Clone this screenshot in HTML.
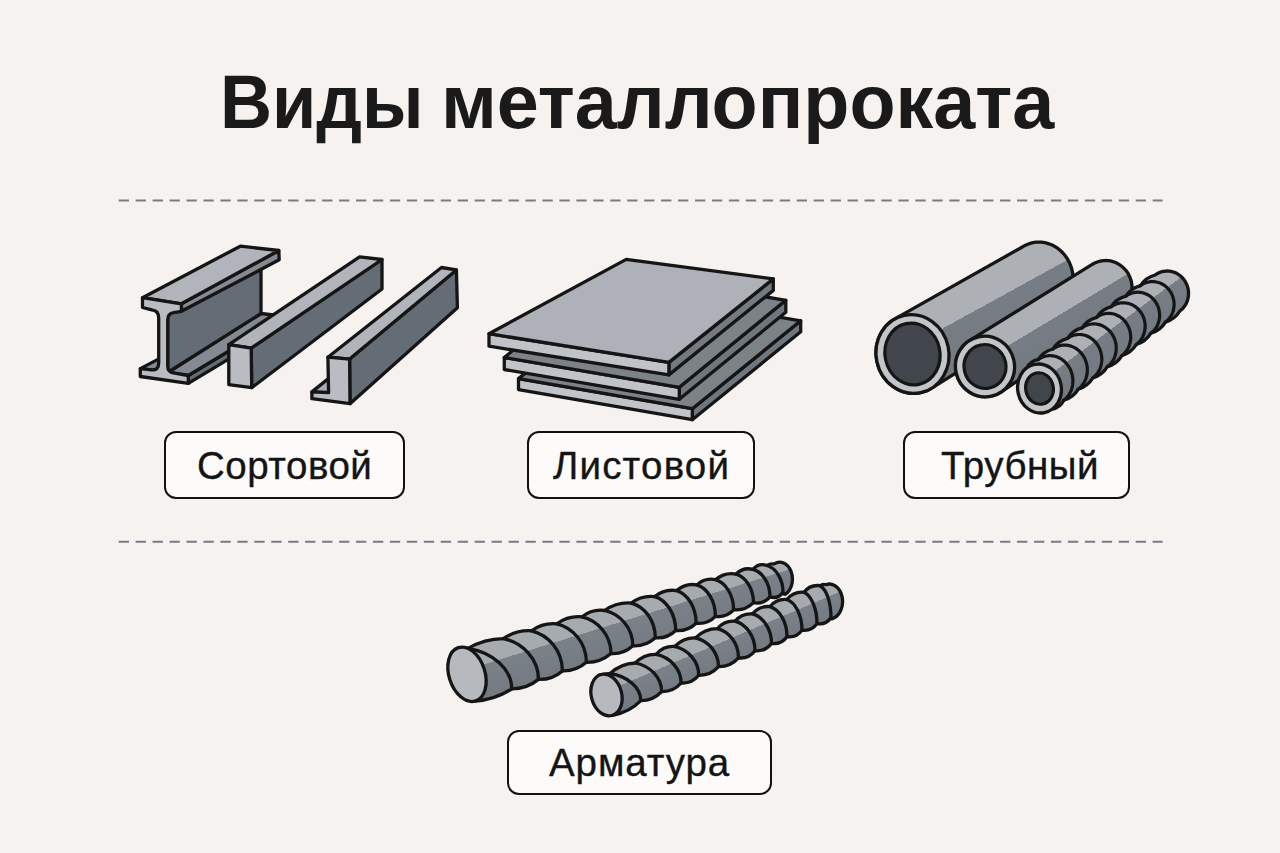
<!DOCTYPE html>
<html><head><meta charset="utf-8"><style>
html,body{margin:0;padding:0;}
body{width:1280px;height:853px;background:#f6f2ef;position:relative;overflow:hidden;font-family:"Liberation Sans",sans-serif;}
.title{position:absolute;left:0;top:0;white-space:nowrap;font-weight:bold;font-size:76px;letter-spacing:0px;color:#1a1a1a;line-height:1;transform:scaleX(0.977);transform-origin:0 0;}
.lbl{position:absolute;box-sizing:border-box;border:2.8px solid #111;border-radius:12px;background:#fcfbf9;}
.lt{position:absolute;white-space:nowrap;font-size:38.5px;color:#141414;line-height:1;-webkit-text-stroke:0.35px #141414;}
svg{position:absolute;left:0;top:0;}
</style></head><body>
<svg width="1280" height="853" viewBox="0 0 1280 853">
<polygon points="188.3,375.5 188.3,383.4 286.0,324.5 286.0,316.5" fill="#646d75" stroke="#151515" stroke-width="3.3" stroke-linejoin="round" />
<polygon points="167.7,372.5 188.3,375.5 286.0,316.5 261.0,313.5" fill="#848a91" stroke="#151515" stroke-width="3.3" stroke-linejoin="round" />
<polygon points="140.3,368.6 158.7,371.2 198.7,350.2 180.3,347.6" fill="#848a91" stroke="#151515" stroke-width="3.3" stroke-linejoin="round" />
<polygon points="167.7,313.5 167.7,372.5 261.0,313.5 261.0,269.5" fill="#646d75" stroke="#151515" stroke-width="3.3" stroke-linejoin="round" />
<polygon points="181.4,303.8 181.4,311.3 279.2,259.8 278.8,250.5" fill="#848a91" stroke="#151515" stroke-width="3.3" stroke-linejoin="round" />
<polygon points="142.5,297.7 181.4,303.8 278.8,250.5 240.3,246.2" fill="#b1b5bb" stroke="#151515" stroke-width="3.3" stroke-linejoin="round" />
<path d="M142.5,297.7 L181.4,303.8 L181.4,311.3 L173.7,312.6 Q167.7,313.4 167.7,320 L167.7,366 Q167.7,372.5 174.7,373.2 L188.3,375.5 L188.3,383.4 L140.3,376.5 L140.3,368.6 L151.7,369.8 Q158.7,370.5 158.7,363 L158.7,318 Q158.7,310.4 151.7,309.8 L142.5,307.5 Z" fill="#b9bdc3" stroke="#151515" stroke-width="3.3" stroke-linejoin="round"/>
<polygon points="251.2,348.1 251.7,387.7 382.0,289.0 382.0,259.5" fill="#646d75" stroke="#151515" stroke-width="3.3" stroke-linejoin="round" />
<polygon points="228.8,344.6 251.2,348.1 382.0,259.5 359.6,256.9" fill="#b1b5bb" stroke="#151515" stroke-width="3.3" stroke-linejoin="round" />
<polygon points="228.8,344.6 251.2,348.1 251.7,387.7 228.8,384.6" fill="#b9bdc3" stroke="#151515" stroke-width="3.3" stroke-linejoin="round" />
<polygon points="311.9,391.9 328.6,392.6 360.0,367.0 344.0,366.0" fill="#a9adb3" stroke="#151515" stroke-width="3.3" stroke-linejoin="round" />
<polygon points="349.6,359.1 350.0,403.7 457.4,307.8 456.4,269.9" fill="#646d75" stroke="#151515" stroke-width="3.3" stroke-linejoin="round" />
<polygon points="327.9,357.2 349.6,359.1 456.4,269.9 441.5,267.5" fill="#b1b5bb" stroke="#151515" stroke-width="3.3" stroke-linejoin="round" />
<polygon points="327.9,357.2 349.6,359.1 350.0,403.7 311.9,398.7 311.9,391.9 328.6,392.6" fill="#b9bdc3" stroke="#151515" stroke-width="3.3" stroke-linejoin="round" />
<polygon points="692.3,408.7 800.7,320.8 800.7,331.8 692.3,419.7" fill="#6f767d" stroke="#151515" stroke-width="3.3" stroke-linejoin="round" />
<polygon points="518.5,378.6 692.3,408.7 692.3,419.7 518.5,389.6" fill="#c0c3c7" stroke="#151515" stroke-width="3.3" stroke-linejoin="round" />
<polygon points="518.5,378.6 626.9,290.7 800.7,320.8 692.3,408.7" fill="#7b8288" stroke="#151515" stroke-width="3.3" stroke-linejoin="round" />
<polygon points="679.3,387.3 785.8,300.3 785.8,312.3 679.3,399.3" fill="#6f767d" stroke="#151515" stroke-width="3.3" stroke-linejoin="round" />
<polygon points="504.3,357.5 679.3,387.3 679.3,399.3 504.3,369.5" fill="#c0c3c7" stroke="#151515" stroke-width="3.3" stroke-linejoin="round" />
<polygon points="504.3,357.5 610.8,270.5 785.8,300.3 679.3,387.3" fill="#7b8288" stroke="#151515" stroke-width="3.3" stroke-linejoin="round" />
<polygon points="668.9,362.4 773.3,278.9 773.3,290.4 668.9,374.9" fill="#737a81" stroke="#151515" stroke-width="3.3" stroke-linejoin="round" />
<polygon points="489.0,333.7 668.9,362.4 668.9,374.9 489.0,346.2" fill="#c0c3c7" stroke="#151515" stroke-width="3.3" stroke-linejoin="round" />
<polygon points="489.0,333.7 626.2,259.4 773.3,278.9 668.9,362.4" fill="#aeb1b7" stroke="#151515" stroke-width="3.3" stroke-linejoin="round" />
<defs><linearGradient id="g1" gradientUnits="userSpaceOnUse" x1="894.0" y1="319.4" x2="931.8" y2="388.2"><stop offset="0" stop-color="#adb1b5"/><stop offset="0.4" stop-color="#adb1b5"/><stop offset="0.4" stop-color="#767d84"/><stop offset="1" stop-color="#737a81"/></linearGradient></defs>
<path d="M931.0,388.6 L929.4,389.5 L927.6,390.4 L925.9,391.1 L924.1,391.7 L922.3,392.3 L920.4,392.7 L918.5,393.0 L916.6,393.2 L914.7,393.4 L912.8,393.4 L910.9,393.3 L909.0,393.0 L907.1,392.7 L905.2,392.3 L903.3,391.8 L901.5,391.1 L899.7,390.4 L897.9,389.6 L896.2,388.6 L894.5,387.6 L892.9,386.5 L891.3,385.3 L889.7,384.0 L888.3,382.6 L886.9,381.1 L885.6,379.6 L884.3,378.0 L883.1,376.3 L882.0,374.6 L881.0,372.8 L880.1,371.0 L879.2,369.1 L878.5,367.2 L877.8,365.2 L877.3,363.2 L876.8,361.2 L876.5,359.2 L876.2,357.1 L876.0,355.1 L876.0,353.0 L876.0,351.0 L876.1,348.9 L876.4,346.9 L876.7,344.9 L877.1,342.9 L877.7,340.9 L878.3,339.0 L879.0,337.1 L879.8,335.3 L880.7,333.5 L881.7,331.7 L882.8,330.1 L883.9,328.5 L885.1,326.9 L886.4,325.5 L887.8,324.1 L889.3,322.8 L890.8,321.6 L892.3,320.5 L894.0,319.4 L1023.2,246.5 L1024.7,245.6 L1026.2,244.9 L1027.8,244.2 L1029.5,243.6 L1031.1,243.1 L1032.8,242.7 L1034.5,242.4 L1036.2,242.2 L1037.9,242.1 L1039.7,242.1 L1041.4,242.2 L1043.1,242.4 L1044.9,242.7 L1046.6,243.1 L1048.3,243.6 L1049.9,244.2 L1051.6,244.8 L1053.2,245.6 L1054.8,246.5 L1056.3,247.4 L1057.8,248.4 L1059.2,249.5 L1060.6,250.7 L1061.9,252.0 L1063.2,253.3 L1064.4,254.7 L1065.5,256.1 L1066.6,257.7 L1067.6,259.2 L1068.5,260.9 L1069.4,262.5 L1070.1,264.3 L1070.8,266.0 L1071.4,267.8 L1071.9,269.6 L1072.3,271.4 L1072.7,273.3 L1072.9,275.2 L1073.1,277.0 L1073.1,278.9 L1073.1,280.8 L1073.0,282.7 L1072.8,284.5 L1072.5,286.4 L1072.1,288.2 L1071.6,290.0 L1071.0,291.7 L1070.4,293.4 L1069.7,295.1 L1068.9,296.7 L1068.0,298.3 L1067.0,299.8 L1066.0,301.3 L1064.8,302.7 L1063.7,304.0 L1062.4,305.3 L1061.1,306.5 L1059.7,307.6 L1058.3,308.6 L1056.8,309.5 Z" fill="url(#g1)" stroke="#151515" stroke-width="3.3" stroke-linejoin="round"/>
<ellipse cx="912.5" cy="354.0" rx="36.4" ry="39.5" transform="rotate(-12 912.5 354.0)" fill="#c3c6c9" stroke="#151515" stroke-width="3.3"/>
<ellipse cx="912.5" cy="354.0" rx="27.5" ry="31.0" transform="rotate(-12 912.5 354.0)" fill="#40464c" stroke="#151515" stroke-width="3.2"/>
<defs><linearGradient id="g2" gradientUnits="userSpaceOnUse" x1="969.0" y1="340.9" x2="1000.1" y2="392.7"><stop offset="0" stop-color="#adb1b5"/><stop offset="0.4" stop-color="#adb1b5"/><stop offset="0.4" stop-color="#767d84"/><stop offset="1" stop-color="#737a81"/></linearGradient></defs>
<path d="M1001.0,392.1 L999.7,392.9 L998.3,393.7 L996.9,394.3 L995.5,394.9 L994.0,395.4 L992.6,395.8 L991.0,396.2 L989.5,396.5 L988.0,396.6 L986.5,396.7 L984.9,396.8 L983.4,396.7 L981.8,396.6 L980.3,396.3 L978.8,396.0 L977.3,395.6 L975.8,395.1 L974.3,394.6 L972.9,394.0 L971.5,393.3 L970.2,392.5 L968.8,391.6 L967.6,390.7 L966.3,389.8 L965.2,388.7 L964.0,387.6 L963.0,386.4 L962.0,385.2 L961.0,383.9 L960.2,382.6 L959.4,381.3 L958.6,379.9 L958.0,378.4 L957.4,376.9 L956.9,375.4 L956.4,373.9 L956.1,372.4 L955.8,370.8 L955.6,369.2 L955.5,367.7 L955.5,366.1 L955.5,364.5 L955.6,362.9 L955.8,361.3 L956.1,359.8 L956.5,358.3 L956.9,356.7 L957.5,355.3 L958.1,353.8 L958.7,352.4 L959.5,351.0 L960.3,349.7 L961.2,348.4 L962.1,347.1 L963.1,345.9 L964.2,344.8 L965.3,343.7 L966.5,342.7 L967.7,341.8 L969.0,340.9 L1091.8,264.7 L1093.0,263.9 L1094.2,263.3 L1095.4,262.7 L1096.7,262.2 L1098.0,261.7 L1099.3,261.4 L1100.6,261.0 L1101.9,260.8 L1103.3,260.6 L1104.7,260.6 L1106.0,260.5 L1107.4,260.6 L1108.7,260.7 L1110.1,260.9 L1111.4,261.2 L1112.8,261.6 L1114.1,262.0 L1115.4,262.5 L1116.6,263.1 L1117.8,263.7 L1119.0,264.4 L1120.2,265.1 L1121.3,266.0 L1122.4,266.8 L1123.4,267.8 L1124.4,268.8 L1125.4,269.8 L1126.3,270.9 L1127.1,272.0 L1127.9,273.2 L1128.6,274.4 L1129.2,275.7 L1129.8,276.9 L1130.3,278.3 L1130.8,279.6 L1131.2,280.9 L1131.5,282.3 L1131.7,283.7 L1131.9,285.1 L1132.0,286.5 L1132.0,287.9 L1132.0,289.3 L1131.9,290.8 L1131.7,292.1 L1131.5,293.5 L1131.2,294.9 L1130.8,296.2 L1130.3,297.6 L1129.8,298.9 L1129.2,300.1 L1128.5,301.4 L1127.8,302.5 L1127.1,303.7 L1126.2,304.8 L1125.3,305.9 L1124.4,306.9 L1123.4,307.8 L1122.4,308.7 L1121.3,309.6 L1120.2,310.3 Z" fill="url(#g2)" stroke="#151515" stroke-width="3.3" stroke-linejoin="round"/>
<ellipse cx="985.0" cy="366.5" rx="29.5" ry="30.3" transform="rotate(-12 985.0 366.5)" fill="#c3c6c9" stroke="#151515" stroke-width="3.3"/>
<ellipse cx="985.0" cy="366.5" rx="21.0" ry="22.0" transform="rotate(-12 985.0 366.5)" fill="#40464c" stroke="#151515" stroke-width="3.2"/>
<defs><linearGradient id="g3" gradientUnits="userSpaceOnUse" x1="1026.8" y1="367.9" x2="1055.6" y2="406.6"><stop offset="0" stop-color="#adb1b5"/><stop offset="0.4" stop-color="#adb1b5"/><stop offset="0.4" stop-color="#767d84"/><stop offset="1" stop-color="#737a81"/></linearGradient></defs>
<path d="M1039.5,388.5 L1026.8,367.9 Q1030.4,360.8 1038.2,359.6 Q1043.4,351.4 1052.9,349.0 Q1058.1,340.8 1067.5,338.4 Q1072.6,330.2 1082.0,327.9 Q1087.2,319.7 1096.7,317.3 Q1101.9,309.1 1111.3,306.7 Q1116.4,298.5 1125.8,296.2 Q1131.0,288.0 1140.5,285.6 Q1145.7,277.4 1155.1,275.0 L1156.0,274.4 L1157.0,273.8 L1157.9,273.3 L1158.9,272.8 L1159.9,272.4 L1161.0,272.0 L1162.0,271.7 L1163.1,271.4 L1164.2,271.3 L1165.3,271.1 L1166.4,271.1 L1167.5,271.0 L1168.6,271.1 L1169.7,271.2 L1170.8,271.4 L1171.9,271.6 L1172.9,271.9 L1174.0,272.2 L1175.0,272.6 L1176.0,273.1 L1177.0,273.6 L1178.0,274.2 L1178.9,274.8 L1179.9,275.5 L1180.7,276.2 L1181.6,276.9 L1182.4,277.8 L1183.1,278.6 L1183.8,279.5 L1184.5,280.4 L1185.1,281.4 L1185.7,282.4 L1186.2,283.4 L1186.7,284.4 L1187.1,285.5 L1187.5,286.6 L1187.8,287.7 L1188.1,288.8 L1188.3,290.0 L1188.4,291.1 L1188.5,292.2 L1188.5,293.4 L1188.5,294.5 L1188.4,295.7 L1188.3,296.8 L1188.1,298.0 L1187.8,299.1 L1187.5,300.2 L1187.2,301.2 L1186.7,302.3 L1186.3,303.3 L1185.7,304.3 L1185.2,305.3 L1184.5,306.2 L1183.9,307.1 L1183.2,308.0 L1182.4,308.8 L1181.6,309.6 L1180.8,310.3 L1179.9,311.0 Q1174.8,319.4 1165.4,322.1 Q1160.4,330.5 1150.9,333.2 Q1145.8,341.7 1136.3,344.5 Q1131.3,352.9 1121.9,355.6 Q1116.8,364.0 1107.4,366.7 Q1102.3,375.2 1092.8,377.9 Q1087.7,386.4 1078.3,389.1 Q1073.3,397.5 1063.8,400.2 Q1060.2,407.5 1052.2,409.1 Z" fill="url(#g3)" stroke="#151515" stroke-width="3.3" stroke-linejoin="round"/>
<path d="M1038.2,359.6 L1039.2,358.9 L1040.1,358.3 L1041.1,357.8 L1042.2,357.3 L1043.2,356.9 L1044.3,356.5 L1045.4,356.2 L1046.5,356.0 L1047.6,355.8 L1048.8,355.7 L1049.9,355.6 L1051.1,355.7 L1052.2,355.8 L1053.3,355.9 L1054.5,356.2 L1055.6,356.4 L1056.7,356.8 L1057.8,357.2 L1058.9,357.7 L1059.9,358.2 L1061.0,358.8 L1062.0,359.5 L1062.9,360.2 L1063.9,361.0 L1064.8,361.8 L1065.7,362.7 L1066.5,363.6 L1067.3,364.6 L1068.0,365.6 L1068.7,366.6 L1069.4,367.7 L1070.0,368.8 L1070.5,369.9 L1071.0,371.1 L1071.4,372.3 L1071.8,373.5 L1072.1,374.8 L1072.4,376.0 L1072.6,377.3 L1072.8,378.5 L1072.8,379.8 L1072.9,381.1 L1072.8,382.3 L1072.7,383.6 L1072.6,384.9 L1072.4,386.1 L1072.1,387.3 L1071.8,388.5 L1071.4,389.7 L1071.0,390.8 L1070.5,391.9 L1069.9,393.0 L1069.3,394.1 L1068.7,395.1 L1068.0,396.1 L1067.2,397.0 L1066.4,397.9 L1065.6,398.7 L1064.7,399.5 L1063.8,400.2" fill="none" stroke="#151515" stroke-width="3.2" stroke-linecap="round"/>
<path d="M1052.9,349.0 L1053.8,348.3 L1054.8,347.7 L1055.8,347.2 L1056.8,346.7 L1057.9,346.3 L1058.9,345.9 L1060.0,345.6 L1061.1,345.4 L1062.3,345.2 L1063.4,345.1 L1064.5,345.1 L1065.7,345.1 L1066.8,345.2 L1067.9,345.3 L1069.1,345.6 L1070.2,345.9 L1071.3,346.2 L1072.4,346.6 L1073.4,347.1 L1074.5,347.6 L1075.5,348.2 L1076.5,348.9 L1077.5,349.6 L1078.4,350.3 L1079.3,351.1 L1080.2,352.0 L1081.0,352.9 L1081.8,353.9 L1082.5,354.8 L1083.2,355.9 L1083.9,356.9 L1084.5,358.0 L1085.0,359.2 L1085.5,360.3 L1085.9,361.5 L1086.3,362.7 L1086.6,363.9 L1086.9,365.2 L1087.1,366.4 L1087.2,367.7 L1087.3,368.9 L1087.3,370.2 L1087.3,371.4 L1087.2,372.7 L1087.0,373.9 L1086.8,375.1 L1086.6,376.3 L1086.2,377.5 L1085.9,378.7 L1085.4,379.8 L1084.9,380.9 L1084.4,382.0 L1083.8,383.0 L1083.1,384.0 L1082.4,385.0 L1081.7,385.9 L1080.9,386.8 L1080.1,387.6 L1079.2,388.4 L1078.3,389.1" fill="none" stroke="#151515" stroke-width="3.2" stroke-linecap="round"/>
<path d="M1067.5,338.4 L1068.4,337.8 L1069.4,337.2 L1070.4,336.6 L1071.4,336.1 L1072.5,335.7 L1073.6,335.3 L1074.6,335.0 L1075.8,334.8 L1076.9,334.6 L1078.0,334.5 L1079.1,334.5 L1080.3,334.5 L1081.4,334.6 L1082.5,334.8 L1083.6,335.0 L1084.8,335.3 L1085.9,335.6 L1086.9,336.0 L1088.0,336.5 L1089.0,337.0 L1090.1,337.6 L1091.1,338.2 L1092.0,338.9 L1093.0,339.7 L1093.9,340.5 L1094.7,341.3 L1095.5,342.2 L1096.3,343.1 L1097.0,344.1 L1097.7,345.1 L1098.4,346.2 L1098.9,347.3 L1099.5,348.4 L1100.0,349.5 L1100.4,350.7 L1100.8,351.9 L1101.1,353.1 L1101.3,354.3 L1101.5,355.5 L1101.7,356.8 L1101.8,358.0 L1101.8,359.3 L1101.8,360.5 L1101.7,361.7 L1101.5,362.9 L1101.3,364.1 L1101.0,365.3 L1100.7,366.5 L1100.3,367.7 L1099.9,368.8 L1099.4,369.9 L1098.8,370.9 L1098.2,372.0 L1097.6,373.0 L1096.9,373.9 L1096.2,374.8 L1095.4,375.7 L1094.5,376.5 L1093.7,377.2 L1092.8,377.9" fill="none" stroke="#151515" stroke-width="3.2" stroke-linecap="round"/>
<path d="M1082.0,327.9 L1082.9,327.3 L1083.9,326.7 L1084.9,326.1 L1085.9,325.6 L1086.9,325.2 L1088.0,324.8 L1089.1,324.5 L1090.2,324.3 L1091.3,324.1 L1092.4,324.0 L1093.5,323.9 L1094.7,323.9 L1095.8,324.0 L1096.9,324.1 L1098.0,324.4 L1099.1,324.6 L1100.2,324.9 L1101.3,325.3 L1102.4,325.8 L1103.4,326.3 L1104.5,326.9 L1105.4,327.5 L1106.4,328.2 L1107.3,328.9 L1108.2,329.7 L1109.1,330.5 L1109.9,331.4 L1110.7,332.3 L1111.4,333.2 L1112.1,334.2 L1112.8,335.3 L1113.3,336.3 L1113.9,337.4 L1114.4,338.6 L1114.8,339.7 L1115.2,340.9 L1115.5,342.1 L1115.8,343.3 L1116.0,344.5 L1116.1,345.7 L1116.2,346.9 L1116.2,348.1 L1116.2,349.4 L1116.1,350.6 L1116.0,351.8 L1115.8,353.0 L1115.5,354.2 L1115.2,355.3 L1114.8,356.5 L1114.4,357.6 L1113.9,358.7 L1113.4,359.7 L1112.8,360.7 L1112.2,361.7 L1111.5,362.7 L1110.7,363.6 L1110.0,364.4 L1109.1,365.2 L1108.3,366.0 L1107.4,366.7" fill="none" stroke="#151515" stroke-width="3.2" stroke-linecap="round"/>
<path d="M1096.7,317.3 L1097.6,316.7 L1098.5,316.1 L1099.5,315.5 L1100.5,315.0 L1101.6,314.6 L1102.6,314.2 L1103.7,313.9 L1104.8,313.7 L1105.9,313.5 L1107.0,313.4 L1108.1,313.3 L1109.3,313.4 L1110.4,313.4 L1111.5,313.6 L1112.6,313.8 L1113.7,314.0 L1114.8,314.3 L1115.9,314.7 L1116.9,315.2 L1118.0,315.7 L1119.0,316.2 L1120.0,316.8 L1120.9,317.5 L1121.9,318.2 L1122.8,319.0 L1123.6,319.8 L1124.4,320.7 L1125.2,321.6 L1125.9,322.5 L1126.6,323.5 L1127.2,324.5 L1127.8,325.6 L1128.4,326.7 L1128.9,327.8 L1129.3,328.9 L1129.7,330.1 L1130.0,331.2 L1130.2,332.4 L1130.4,333.6 L1130.6,334.8 L1130.7,336.0 L1130.7,337.2 L1130.7,338.4 L1130.6,339.6 L1130.4,340.8 L1130.2,342.0 L1130.0,343.2 L1129.7,344.3 L1129.3,345.5 L1128.8,346.6 L1128.4,347.6 L1127.8,348.7 L1127.2,349.7 L1126.6,350.7 L1125.9,351.6 L1125.2,352.5 L1124.4,353.3 L1123.6,354.1 L1122.8,354.9 L1121.9,355.6" fill="none" stroke="#151515" stroke-width="3.2" stroke-linecap="round"/>
<path d="M1111.3,306.7 L1112.2,306.1 L1113.2,305.5 L1114.2,304.9 L1115.2,304.5 L1116.2,304.0 L1117.3,303.7 L1118.3,303.4 L1119.4,303.1 L1120.5,302.9 L1121.6,302.8 L1122.7,302.8 L1123.9,302.8 L1125.0,302.9 L1126.1,303.0 L1127.2,303.2 L1128.3,303.4 L1129.4,303.7 L1130.5,304.1 L1131.5,304.6 L1132.5,305.0 L1133.5,305.6 L1134.5,306.2 L1135.5,306.9 L1136.4,307.6 L1137.3,308.3 L1138.1,309.1 L1138.9,310.0 L1139.7,310.9 L1140.4,311.8 L1141.1,312.8 L1141.7,313.8 L1142.3,314.8 L1142.9,315.9 L1143.3,317.0 L1143.8,318.1 L1144.1,319.2 L1144.4,320.4 L1144.7,321.6 L1144.9,322.7 L1145.1,323.9 L1145.1,325.1 L1145.2,326.3 L1145.1,327.5 L1145.0,328.7 L1144.9,329.9 L1144.7,331.0 L1144.4,332.2 L1144.1,333.3 L1143.7,334.4 L1143.3,335.5 L1142.8,336.6 L1142.3,337.6 L1141.7,338.6 L1141.1,339.6 L1140.4,340.5 L1139.7,341.4 L1138.9,342.2 L1138.1,343.0 L1137.2,343.8 L1136.3,344.5" fill="none" stroke="#151515" stroke-width="3.2" stroke-linecap="round"/>
<path d="M1125.8,296.2 L1126.7,295.6 L1127.7,295.0 L1128.6,294.4 L1129.6,294.0 L1130.7,293.5 L1131.7,293.2 L1132.8,292.8 L1133.9,292.6 L1135.0,292.4 L1136.1,292.3 L1137.2,292.2 L1138.3,292.2 L1139.4,292.3 L1140.5,292.4 L1141.6,292.6 L1142.7,292.8 L1143.8,293.1 L1144.8,293.5 L1145.9,293.9 L1146.9,294.3 L1147.9,294.9 L1148.9,295.5 L1149.9,296.1 L1150.8,296.8 L1151.7,297.5 L1152.5,298.3 L1153.3,299.1 L1154.1,300.0 L1154.8,300.9 L1155.5,301.9 L1156.1,302.9 L1156.7,303.9 L1157.3,304.9 L1157.7,306.0 L1158.2,307.1 L1158.6,308.2 L1158.9,309.4 L1159.1,310.5 L1159.3,311.7 L1159.5,312.9 L1159.6,314.0 L1159.6,315.2 L1159.6,316.4 L1159.5,317.6 L1159.4,318.7 L1159.2,319.9 L1158.9,321.0 L1158.6,322.1 L1158.2,323.3 L1157.8,324.3 L1157.4,325.4 L1156.8,326.4 L1156.3,327.4 L1155.6,328.4 L1155.0,329.3 L1154.2,330.2 L1153.5,331.0 L1152.7,331.8 L1151.8,332.5 L1150.9,333.2" fill="none" stroke="#151515" stroke-width="3.2" stroke-linecap="round"/>
<path d="M1140.5,285.6 L1141.4,285.0 L1142.3,284.4 L1143.3,283.8 L1144.3,283.4 L1145.3,282.9 L1146.3,282.6 L1147.4,282.3 L1148.5,282.0 L1149.6,281.8 L1150.7,281.7 L1151.8,281.6 L1152.9,281.6 L1154.0,281.7 L1155.1,281.8 L1156.2,282.0 L1157.3,282.2 L1158.4,282.5 L1159.4,282.8 L1160.5,283.3 L1161.5,283.7 L1162.5,284.2 L1163.5,284.8 L1164.4,285.4 L1165.3,286.1 L1166.2,286.9 L1167.0,287.6 L1167.8,288.4 L1168.6,289.3 L1169.3,290.2 L1170.0,291.1 L1170.6,292.1 L1171.2,293.1 L1171.8,294.2 L1172.2,295.2 L1172.7,296.3 L1173.0,297.4 L1173.3,298.5 L1173.6,299.7 L1173.8,300.8 L1174.0,302.0 L1174.1,303.1 L1174.1,304.3 L1174.1,305.5 L1174.0,306.6 L1173.8,307.8 L1173.6,308.9 L1173.4,310.0 L1173.1,311.2 L1172.7,312.2 L1172.3,313.3 L1171.8,314.4 L1171.3,315.4 L1170.7,316.3 L1170.1,317.3 L1169.4,318.2 L1168.7,319.1 L1167.9,319.9 L1167.1,320.7 L1166.3,321.4 L1165.4,322.1" fill="none" stroke="#151515" stroke-width="3.2" stroke-linecap="round"/>
<ellipse cx="1039.5" cy="388.5" rx="21.8" ry="24.6" transform="rotate(-12 1039.5 388.5)" fill="#c3c6c9" stroke="#151515" stroke-width="3.3"/>
<ellipse cx="1039.5" cy="388.5" rx="13.8" ry="15.8" transform="rotate(-12 1039.5 388.5)" fill="#40464c" stroke="#151515" stroke-width="3.2"/>
<defs><linearGradient id="g4" gradientUnits="userSpaceOnUse" x1="458.5" y1="647.6" x2="475.1" y2="701.1"><stop offset="0" stop-color="#a6abb0"/><stop offset="0.42" stop-color="#a6abb0"/><stop offset="0.42" stop-color="#7a8188"/><stop offset="1" stop-color="#737a81"/></linearGradient></defs>
<path d="M467.0,674.3 L458.5,647.6 L468.1,648.4 Q484.4,638.7 503.3,638.6 Q516.1,629.9 531.5,630.8 Q542.8,622.5 556.8,623.8 Q568.1,615.5 582.1,616.8 Q592.1,608.8 604.7,610.5 Q616.7,602.0 631.3,603.1 Q641.7,595.1 654.7,596.6 Q664.3,588.8 676.6,590.6 Q685.4,582.9 696.9,584.9 Q704.9,577.5 715.6,579.7 Q724.5,572.1 736.0,574.1 Q743.2,566.9 753.0,569.4 Q758.7,562.6 767.0,565.5 Q770.2,563.2 774.0,564.0 A12.1,16.2 0 0 1 785.5,594.2 Q783.3,594.5 783.0,592.2 Q778.2,599.2 770.0,596.9 Q763.4,604.5 753.5,602.7 Q745.2,611.0 733.6,609.8 Q726.2,617.8 715.4,616.3 Q707.4,624.5 696.1,623.2 Q687.6,631.5 675.7,630.5 Q667.2,638.8 655.3,637.8 Q645.7,646.5 632.8,645.8 Q623.6,654.4 611.0,653.5 Q600.4,662.6 586.4,662.3 Q576.1,671.3 562.4,670.9 Q552.1,679.9 538.5,679.4 Q526.8,688.9 511.8,688.9 Q495.2,699.7 475.5,701.0 Z" fill="url(#g4)" stroke="#151515" stroke-width="3.3" stroke-linejoin="round"/>
<path d="M468.1,648.4 C492.1,652.4 511.8,668.7 511.8,688.9" fill="none" stroke="#151515" stroke-width="3.3" stroke-linecap="round"/>
<path d="M503.3,638.6 C522.7,642.7 538.5,659.0 538.5,679.4" fill="none" stroke="#151515" stroke-width="3.3" stroke-linecap="round"/>
<path d="M531.5,630.8 C548.5,634.8 562.4,650.8 562.4,670.9" fill="none" stroke="#151515" stroke-width="3.3" stroke-linecap="round"/>
<path d="M556.8,623.8 C573.1,627.6 586.4,643.1 586.4,662.3" fill="none" stroke="#151515" stroke-width="3.3" stroke-linecap="round"/>
<path d="M582.1,616.8 C598.0,620.5 611.0,635.2 611.0,653.5" fill="none" stroke="#151515" stroke-width="3.3" stroke-linecap="round"/>
<path d="M604.7,610.5 C620.2,614.0 632.8,628.1 632.8,645.8" fill="none" stroke="#151515" stroke-width="3.3" stroke-linecap="round"/>
<path d="M631.3,603.1 C644.5,606.6 655.3,620.4 655.3,637.8" fill="none" stroke="#151515" stroke-width="3.3" stroke-linecap="round"/>
<path d="M654.7,596.6 C666.2,600.0 675.7,613.6 675.7,630.5" fill="none" stroke="#151515" stroke-width="3.3" stroke-linecap="round"/>
<path d="M676.6,590.6 C687.3,593.8 696.1,606.9 696.1,623.2" fill="none" stroke="#151515" stroke-width="3.3" stroke-linecap="round"/>
<path d="M696.9,584.9 C707.1,588.1 715.4,600.6 715.4,616.3" fill="none" stroke="#151515" stroke-width="3.3" stroke-linecap="round"/>
<path d="M715.6,579.7 C725.5,582.7 733.6,594.8 733.6,609.8" fill="none" stroke="#151515" stroke-width="3.3" stroke-linecap="round"/>
<path d="M736.0,574.1 C745.6,576.9 753.5,588.4 753.5,602.7" fill="none" stroke="#151515" stroke-width="3.3" stroke-linecap="round"/>
<path d="M753.0,569.4 C762.4,572.1 770.0,583.1 770.0,596.9" fill="none" stroke="#151515" stroke-width="3.3" stroke-linecap="round"/>
<path d="M767.0,565.5 C775.8,568.2 783.0,578.8 783.0,592.2" fill="none" stroke="#151515" stroke-width="3.3" stroke-linecap="round"/>
<ellipse cx="467.0" cy="674.3" rx="18.0" ry="28.0" transform="rotate(-18 467.0 674.3)" fill="#b6babe" stroke="#151515" stroke-width="3.3"/>
<defs><linearGradient id="g5" gradientUnits="userSpaceOnUse" x1="599.5" y1="675.0" x2="616.1" y2="713.9"><stop offset="0" stop-color="#a6abb0"/><stop offset="0.42" stop-color="#a6abb0"/><stop offset="0.42" stop-color="#7a8188"/><stop offset="1" stop-color="#737a81"/></linearGradient></defs>
<path d="M606.5,695.0 L599.5,675.0 L610.2,673.5 Q620.8,663.6 635.3,663.0 Q643.8,654.0 656.1,654.3 Q663.5,645.8 674.7,646.5 Q683.2,637.5 695.5,637.8 Q704.6,628.6 717.5,628.6 Q724.3,620.3 735.0,621.2 Q741.8,613.0 752.5,613.9 Q759.3,605.6 770.0,606.6 Q776.6,598.4 787.0,599.5 Q793.6,591.3 804.0,592.3 Q810.1,584.4 820.0,585.7 Q822.7,583.6 826.0,584.7 A12.9,17.3 0 0 1 833.0,618.5 Q831.3,619.4 831.0,617.5 Q826.0,625.1 817.0,623.6 Q811.5,631.4 802.0,630.1 Q796.5,638.0 787.0,636.7 Q781.3,644.7 771.5,643.5 Q765.3,651.7 755.0,650.7 Q748.8,658.9 738.5,657.9 Q730.5,666.9 718.5,666.7 Q710.6,675.6 698.7,675.3 Q691.9,683.8 681.1,683.0 Q673.4,691.9 661.6,691.6 Q653.2,700.7 640.8,700.7 Q629.5,712.2 613.5,715.0 Z" fill="url(#g5)" stroke="#151515" stroke-width="3.3" stroke-linejoin="round"/>
<path d="M610.2,673.5 C627.0,676.2 640.8,687.1 640.8,700.7" fill="none" stroke="#151515" stroke-width="3.3" stroke-linecap="round"/>
<path d="M635.3,663.0 C649.8,665.8 661.6,677.3 661.6,691.6" fill="none" stroke="#151515" stroke-width="3.3" stroke-linecap="round"/>
<path d="M656.1,654.3 C669.9,657.1 681.1,668.6 681.1,683.0" fill="none" stroke="#151515" stroke-width="3.3" stroke-linecap="round"/>
<path d="M674.7,646.5 C687.9,649.4 698.7,660.9 698.7,675.3" fill="none" stroke="#151515" stroke-width="3.3" stroke-linecap="round"/>
<path d="M695.5,637.8 C708.1,640.7 718.5,652.2 718.5,666.7" fill="none" stroke="#151515" stroke-width="3.3" stroke-linecap="round"/>
<path d="M717.5,628.6 C729.0,631.5 738.5,643.2 738.5,657.9" fill="none" stroke="#151515" stroke-width="3.3" stroke-linecap="round"/>
<path d="M735.0,621.2 C746.0,624.2 755.0,636.0 755.0,650.7" fill="none" stroke="#151515" stroke-width="3.3" stroke-linecap="round"/>
<path d="M752.5,613.9 C763.0,616.9 771.5,628.7 771.5,643.5" fill="none" stroke="#151515" stroke-width="3.3" stroke-linecap="round"/>
<path d="M770.0,606.6 C779.4,609.6 787.0,621.6 787.0,636.7" fill="none" stroke="#151515" stroke-width="3.3" stroke-linecap="round"/>
<path d="M787.0,599.5 C795.2,602.5 802.0,614.8 802.0,630.1" fill="none" stroke="#151515" stroke-width="3.3" stroke-linecap="round"/>
<path d="M804.0,592.3 C811.1,595.5 817.0,608.0 817.0,623.6" fill="none" stroke="#151515" stroke-width="3.3" stroke-linecap="round"/>
<path d="M820.0,585.7 C826.0,588.8 831.0,601.6 831.0,617.5" fill="none" stroke="#151515" stroke-width="3.3" stroke-linecap="round"/>
<ellipse cx="606.5" cy="695.0" rx="15.2" ry="21.2" transform="rotate(-15 606.5 695.0)" fill="#b6babe" stroke="#151515" stroke-width="3.3"/>
<line x1="118.7" y1="200.5" x2="1162.6" y2="200.5" stroke="#777b87" stroke-width="1.9" stroke-dasharray="10.3 6.65"/>
<line x1="118.7" y1="541.7" x2="1162.6" y2="541.7" stroke="#777b87" stroke-width="1.9" stroke-dasharray="10.3 6.65"/>

</svg>
<div class="title" id="w1" style="left:220px;top:64px;transform:scaleX(0.948);">Виды</div>
<div class="title" id="w2" style="left:441px;top:64px;transform:scaleX(0.993);">металлопроката</div>
<div class="lbl" style="left:164px;top:431px;width:241px;height:68px;"></div>
<div class="lt" id="t1" style="left:197px;top:447px;letter-spacing:0.5px;">Сортовой</div>
<div class="lbl" style="left:527px;top:431px;width:228px;height:68px;"></div>
<div class="lt" id="t2" style="left:553px;top:447px;letter-spacing:1.2px;">Листовой</div>
<div class="lbl" style="left:903px;top:431px;width:227px;height:68px;"></div>
<div class="lt" id="t3" style="left:941px;top:447px;letter-spacing:0.5px;">Трубный</div>
<div class="lbl" style="left:507px;top:730px;width:265px;height:65px;"></div>
<div class="lt" id="t4" style="left:549px;top:744px;letter-spacing:0.9px;">Арматура</div>
</body></html>
